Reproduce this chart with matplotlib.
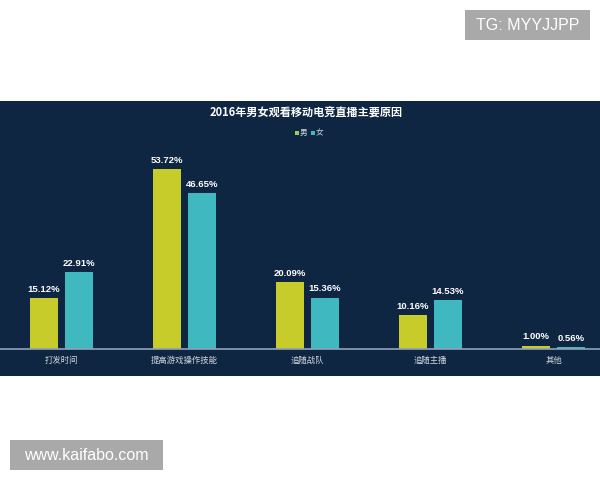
import matplotlib
matplotlib.use("Agg")
import matplotlib.pyplot as plt
from matplotlib.patches import Rectangle
import numpy as np

plt.rcParams['font.family'] = ['Noto Sans CJK SC', 'DejaVu Sans']

title = "2016年男女观看移动电竞直播主要原因"
categories = ["打发时间", "提高游戏操作技能", "追随战队", "追随主播", "其他"]
series_names = ["男", "女"]
male = [15.12, 53.72, 20.09, 10.16, 1.00]
female = [22.91, 46.65, 15.36, 14.53, 0.56]

YELLOW = "#c8cc2a"
TEAL = "#3fb8bf"
BG = "#0e2641"

W, H = 600, 480
fig = plt.figure(figsize=(6, 4.8), dpi=100, facecolor="white")

# dark panel
fig.patches.append(Rectangle((0, 1 - 376 / H), 1, (376 - 101) / H,
                             transform=fig.transFigure, facecolor=BG,
                             edgecolor="none", zorder=-5))

ax = fig.add_axes([0, 1 - 349 / H, 1, (349 - 150) / H])
ax.set_zorder(5)
ax.set_facecolor("none")
x = np.arange(len(categories))
px = 1 / 123.0
bw = 28 * px
off = 17.5 * px
ax.bar(x - off, male, bw, color=YELLOW, zorder=2)
ax.bar(x + off, female, bw, color=TEAL, zorder=2)
ax.set_xlim(-0.5, (600 - 61.5) / 123)
ax.set_ylim(0, 199 / 3.35)
for i in range(len(categories)):
    ax.annotate(f"{male[i]:.2f}%", (x[i] - off, male[i]), xytext=(0, 3),
                textcoords="offset points", ha="center", va="bottom",
                color="white", fontsize=6.8, fontweight="bold", family="Liberation Sans")
    ax.annotate(f"{female[i]:.2f}%", (x[i] + off, female[i]), xytext=(0, 3),
                textcoords="offset points", ha="center", va="bottom",
                color="white", fontsize=6.8, fontweight="bold", family="Liberation Sans")
for s in ["top", "right", "left"]:
    ax.spines[s].set_visible(False)
ax.spines["bottom"].set_color("#8fa3b8")
ax.spines["bottom"].set_linewidth(1.2)
ax.set_yticks([])
ax.set_xticks(x)
ax.set_xticklabels(categories, color="#d0d8e0", fontsize=6)
ax.tick_params(axis="x", length=0, pad=5)

fig.text(0.51, 1 - 113 / H, title, ha="center", va="center", color="white",
         fontsize=8, fontweight="bold", zorder=6)

# legend
ly = 1 - 133 / H
fig.patches.append(Rectangle((295 / W, ly - 2 / H), 4 / W, 4 / H, transform=fig.transFigure,
                             facecolor="#9ccc5a", edgecolor="none", zorder=6))
fig.text(300 / W, ly, series_names[0], ha="left", va="center", color="#d0d8e0", fontsize=5.5, zorder=6)
fig.patches.append(Rectangle((311 / W, ly - 2 / H), 4 / W, 4 / H, transform=fig.transFigure,
                             facecolor=TEAL, edgecolor="none", zorder=6))
fig.text(316 / W, ly, series_names[1], ha="left", va="center", color="#d0d8e0", fontsize=5.5, zorder=6)

# watermark boxes
fig.patches.append(Rectangle((465 / W, 1 - 40 / H), 125 / W, 30 / H, transform=fig.transFigure,
                             facecolor="#a9a9a9", edgecolor="none"))
fig.text(527.5 / W, 1 - 25 / H, "TG: MYYJJPP", ha="center", va="center", color="white",
         fontsize=11.5, family="Liberation Sans")
fig.patches.append(Rectangle((10 / W, 1 - 470 / H), 153 / W, 30 / H, transform=fig.transFigure,
                             facecolor="#a9a9a9", edgecolor="none"))
fig.text(86.5 / W, 1 - 455 / H, "www.kaifabo.com", ha="center", va="center", color="white",
         fontsize=11.5, family="Liberation Sans")

fig.savefig("out.png", dpi=100, facecolor="white")
